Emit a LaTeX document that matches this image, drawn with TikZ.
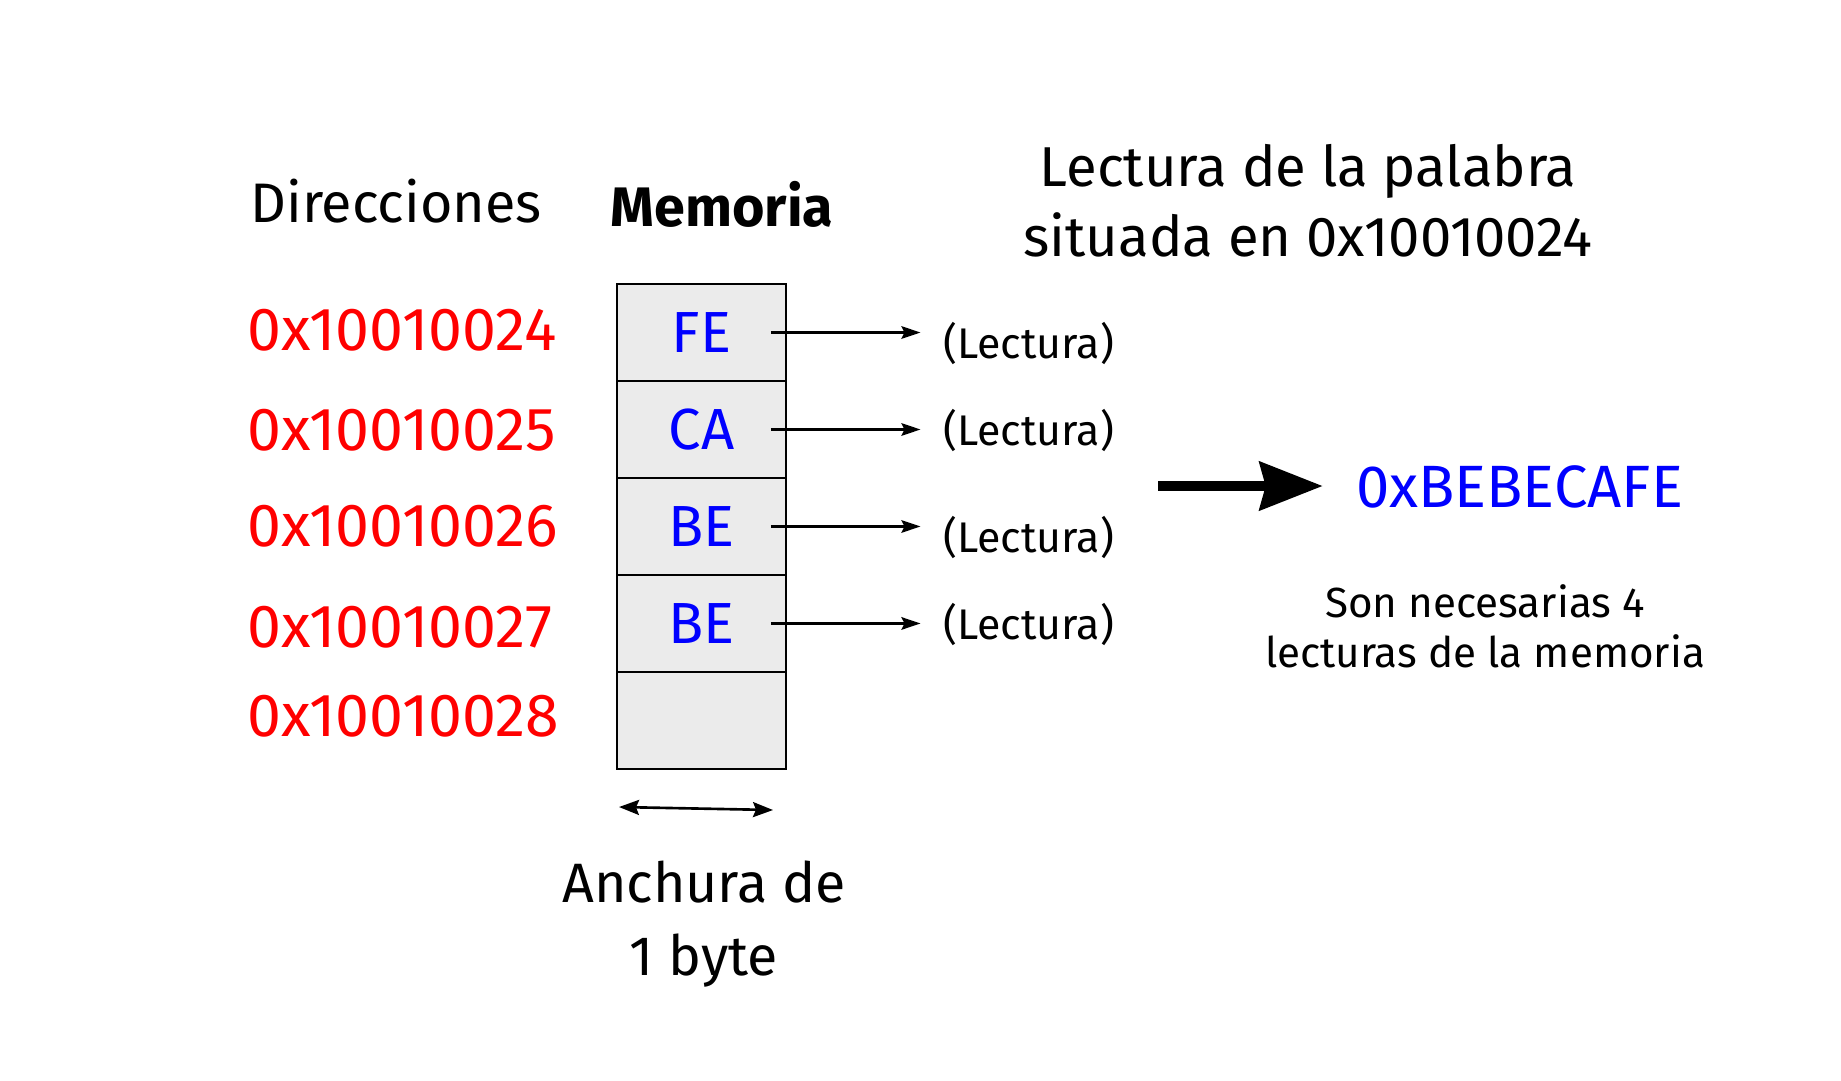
\documentclass[tikz,border=0pt]{standalone}
\usepackage{fontspec}
\setmainfont{Fira Sans}
\usepackage{xcolor}
\usepackage{tikz}
\usetikzlibrary{positioning, arrows.meta}
\definecolor{AddrRed}{HTML}{FF0000}
\definecolor{ValBlue}{HTML}{0000FF}
\definecolor{CellGray}{HTML}{EBEBEB}

\tikzset{
  addr/.style={text=AddrRed, anchor=west, inner sep=0pt, font=\fontsize{34.6}{42}\selectfont},
  cell/.style={draw=black, fill=CellGray, line width=1.1pt, outer sep=0pt,
               minimum width=3.38cm, minimum height=1.94cm,
               text=ValBlue, font=\fontsize{33}{40}\selectfont},
  readlbl/.style={anchor=west, inner sep=0pt, font=\fontsize{24.4}{30}\selectfont},
  readarrow/.style={-{Stealth[length=0.38cm, width=0.25cm, inset=0.06cm]}, line width=1.5pt},
  title/.style={align=center, inner sep=0pt, font=\fontsize{32}{40}\selectfont}
}

\begin{document}
\begin{tikzpicture}[x=0.02cm, y=-0.02cm]
  \useasboundingbox (0,0) rectangle (1841,1080);

  % headings
  \node[title, font=\fontsize{31.7}{40}\selectfont] (hdir) at (396,201) {Direcciones};
  \node[title, font=\fontsize{31.7}{40}\selectfont\bfseries] (hmem) at (722,204) {Memoria};
  \node[title] (hread) at (1308,201) {Lectura de la palabra\\situada en 0x10010024};

  % addresses
  \node[addr] (a0) at (247,330) {0x10010024};
  \node[addr] (a1) at (247,430) {0x10010025};
  \node[addr] (a2) at (247,526) {0x10010026};
  \node[addr] (a3) at (247,627) {0x10010027};
  \node[addr] (a4) at (247,716) {0x10010028};

  % memory cells
  \node[cell] (c0) at (701.5,332.5) {FE};
  \node[cell, below=0pt of c0] (c1) {CA};
  \node[cell, below=0pt of c1] (c2) {BE};
  \node[cell, below=0pt of c2] (c3) {BE};
  \node[cell, below=0pt of c3] (c4) {};

  % reads
  \node[readlbl] (l0) at (943,343) {(Lectura)};
  \node[readlbl] (l1) at (943,430) {(Lectura)};
  \node[readlbl] (l2) at (943,537) {(Lectura)};
  \node[readlbl] (l3) at (943,624) {(Lectura)};
  \draw[readarrow, shorten >=0.15cm] ([xshift=-0.3cm]c0.east) -- ([xshift=-0.3cm]c0.east -| l0.west);
  \draw[readarrow, shorten >=0.15cm] ([xshift=-0.3cm]c1.east) -- ([xshift=-0.3cm]c1.east -| l1.west);
  \draw[readarrow, shorten >=0.15cm] ([xshift=-0.3cm]c2.east) -- ([xshift=-0.3cm]c2.east -| l2.west);
  \draw[readarrow, shorten >=0.15cm] ([xshift=-0.3cm]c3.east) -- ([xshift=-0.3cm]c3.east -| l3.west);

  % result
  \node[inner sep=0pt, text=ValBlue, font=\fontsize{34}{40}\selectfont] (res) at (1519.5,487) {0xBEBECAFE};
  \coordinate (bigstart) at (1158,486);
  \draw[line width=5.7pt, -{Stealth[length=1.26cm, width=0.96cm, inset=0.12cm]}, shorten >=0.66cm]
    (bigstart) -- (bigstart -| res.west);
  \node[title, font=\fontsize{24}{28.4}\selectfont] (note) at (1485,626)
    {Son necesarias 4\\lecturas de la memoria};

  % width of one byte
  \coordinate (wl) at (619,807);
  \coordinate (wr) at (773,810);
  \draw[{Stealth[length=0.4cm, width=0.3cm, inset=0.06cm]}-{Stealth[length=0.4cm, width=0.3cm, inset=0.06cm]}, line width=1.5pt] (wl) -- (wr);
  \node[title, font=\fontsize{31.6}{41.5}\selectfont] (wlbl) at (704,924) {Anchura de\\1 byte};
\end{tikzpicture}
\end{document}
